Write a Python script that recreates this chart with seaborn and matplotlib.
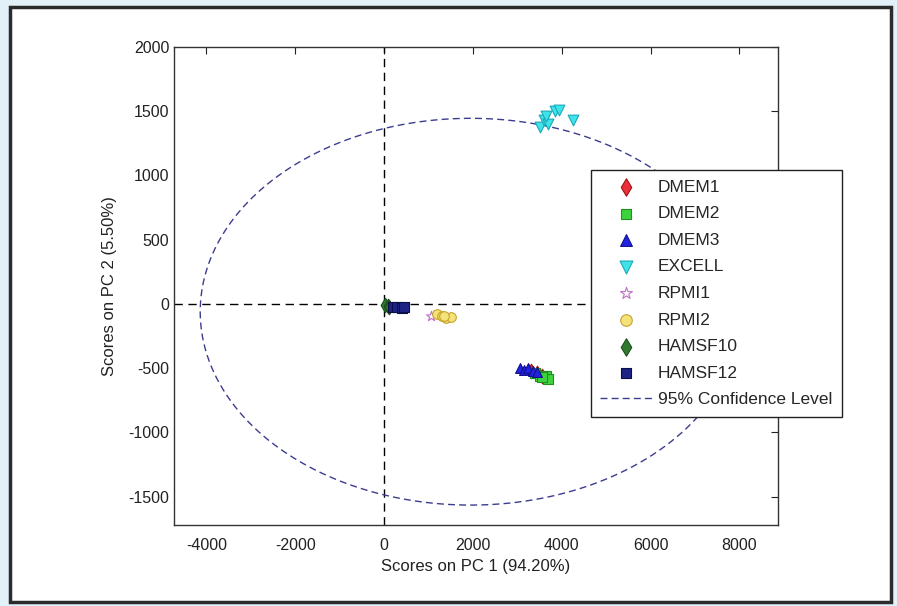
import numpy as np
import pandas as pd
import matplotlib
matplotlib.use("Agg")
import matplotlib.pyplot as plt
from matplotlib.patches import Rectangle
import seaborn as sns

# PCA scores, one pair of lists per medium
groups = ["DMEM1", "DMEM2", "DMEM3", "EXCELL", "RPMI1", "RPMI2", "HAMSF10", "HAMSF12"]
pc1 = {
    "DMEM1": [3300, 3450, 3550],
    "DMEM2": [3400, 3500, 3650, 3700, 3550],
    "DMEM3": [3050, 3150, 3250, 3350, 3450],
    "EXCELL": [3500, 3600, 3700, 3850, 3950, 4250, 3650],
    "RPMI1": [1050],
    "RPMI2": [1200, 1300, 1400, 1500, 1350],
    "HAMSF10": [30, 80, 120],
    "HAMSF12": [200, 300, 400, 450],
}
pc2 = {
    "DMEM1": [-520, -540, -560],
    "DMEM2": [-540, -560, -560, -580, -570],
    "DMEM3": [-500, -510, -500, -520, -530],
    "EXCELL": [1380, 1430, 1400, 1500, 1510, 1430, 1460],
    "RPMI1": [-95],
    "RPMI2": [-80, -95, -110, -100, -90],
    "HAMSF10": [-10, -15, -20],
    "HAMSF12": [-20, -25, -30, -25],
}

# 95% confidence ellipse: centre and half axes
ell_center = (1950, -60)
ell_half = (6090, 1505)

x_ticks = [-4000, -2000, 0, 2000, 4000, 6000, 8000]
y_ticks = [-1500, -1000, -500, 0, 500, 1000, 1500, 2000]

styles = {
    "DMEM1": dict(marker="d", color="#e8303a", edgecolor="#a01010", s=55),
    "DMEM2": dict(marker="s", color="#3fd23f", edgecolor="#1f8f1f", s=42),
    "DMEM3": dict(marker="^", color="#2222e0", edgecolor="#10108a", s=50),
    "EXCELL": dict(marker="v", color="#3fe3ea", edgecolor="#1aa9b8", s=60),
    "RPMI1": dict(marker="*", color="#ffffff", edgecolor="#c070c8", s=55),
    "RPMI2": dict(marker="o", color="#f4e27a", edgecolor="#c9a22a", s=48),
    "HAMSF10": dict(marker="d", color="#2f7a2f", edgecolor="#1b4f1b", s=55),
    "HAMSF12": dict(marker="s", color="#1c2385", edgecolor="#0c0f45", s=42),
}

rows = []
for g in groups:
    for x, y in zip(pc1[g], pc2[g]):
        rows.append({"group": g, "pc1": x, "pc2": y})
df = pd.DataFrame(rows)

sns.set_style("white")
plt.rcParams["font.family"] = ["Liberation Sans Narrow", "Liberation Sans", "DejaVu Sans"]
plt.rcParams["axes.unicode_minus"] = False

fig = plt.figure(figsize=(8.97, 6.06), dpi=100, facecolor="#e2f0f8")
fig.patches.append(Rectangle((10 / 897, 1 - 602 / 606), 881 / 897, 595 / 606,
                             transform=fig.transFigure, facecolor="white",
                             edgecolor="#2b2b2b", linewidth=2.5, zorder=-10))
ax = fig.add_axes([174 / 897, 1 - 525 / 606, 604 / 897, 478 / 606])
ax.set_zorder(1)

ax.axvline(0, color="black", linestyle=(0, (6, 4)), linewidth=1, zorder=1)
ax.axhline(0, color="black", linestyle=(0, (6, 4)), linewidth=1, zorder=1)

t = np.linspace(0, 2 * np.pi, 400)
ax.plot(ell_center[0] + ell_half[0] * np.cos(t), ell_center[1] + ell_half[1] * np.sin(t),
        color="#3c3c90", linestyle=(0, (5, 3)), linewidth=1, zorder=1,
        label="95% Confidence Level")

for g in groups:
    st = styles[g]
    sns.scatterplot(data=df[df["group"] == g], x="pc1", y="pc2", ax=ax,
                    marker=st["marker"], color=st["color"], edgecolor=st["edgecolor"],
                    linewidth=0.8, s=st["s"], label=g, zorder=3)

ax.set_xlim(-4730, 8870)
ax.set_ylim(-1720, 2000)
ax.set_xticks(x_ticks)
ax.set_yticks(y_ticks)
ax.tick_params(direction="in", length=5, width=0.8, top=True, right=True,
               labelsize=11.5, colors="#222222")
ax.tick_params(axis="x", pad=9)
for sp in ax.spines.values():
    sp.set_color("#333333")
    sp.set_linewidth(1)

ax.set_xlabel("Scores on PC 1 (94.20%)", fontsize=12, color="#222222", labelpad=5)
ax.set_ylabel("Scores on PC 2 (5.50%)", fontsize=12, color="#222222", labelpad=8)

handles, labels = ax.get_legend_handles_labels()
order = groups + ["95% Confidence Level"]
hmap = dict(zip(labels, handles))
leg = ax.legend([hmap[k] for k in order], order, loc="upper left",
                bbox_to_anchor=(0.690, 0.743), fontsize=12.5, frameon=True,
                fancybox=False, framealpha=1, edgecolor="#222222", labelspacing=0.66,
                handlelength=3.0, borderpad=0.55, handletextpad=0.3,
                borderaxespad=0, markerscale=1.2)
leg.get_frame().set_linewidth(1)

fig.savefig("out.png", dpi=100, facecolor=fig.get_facecolor())
